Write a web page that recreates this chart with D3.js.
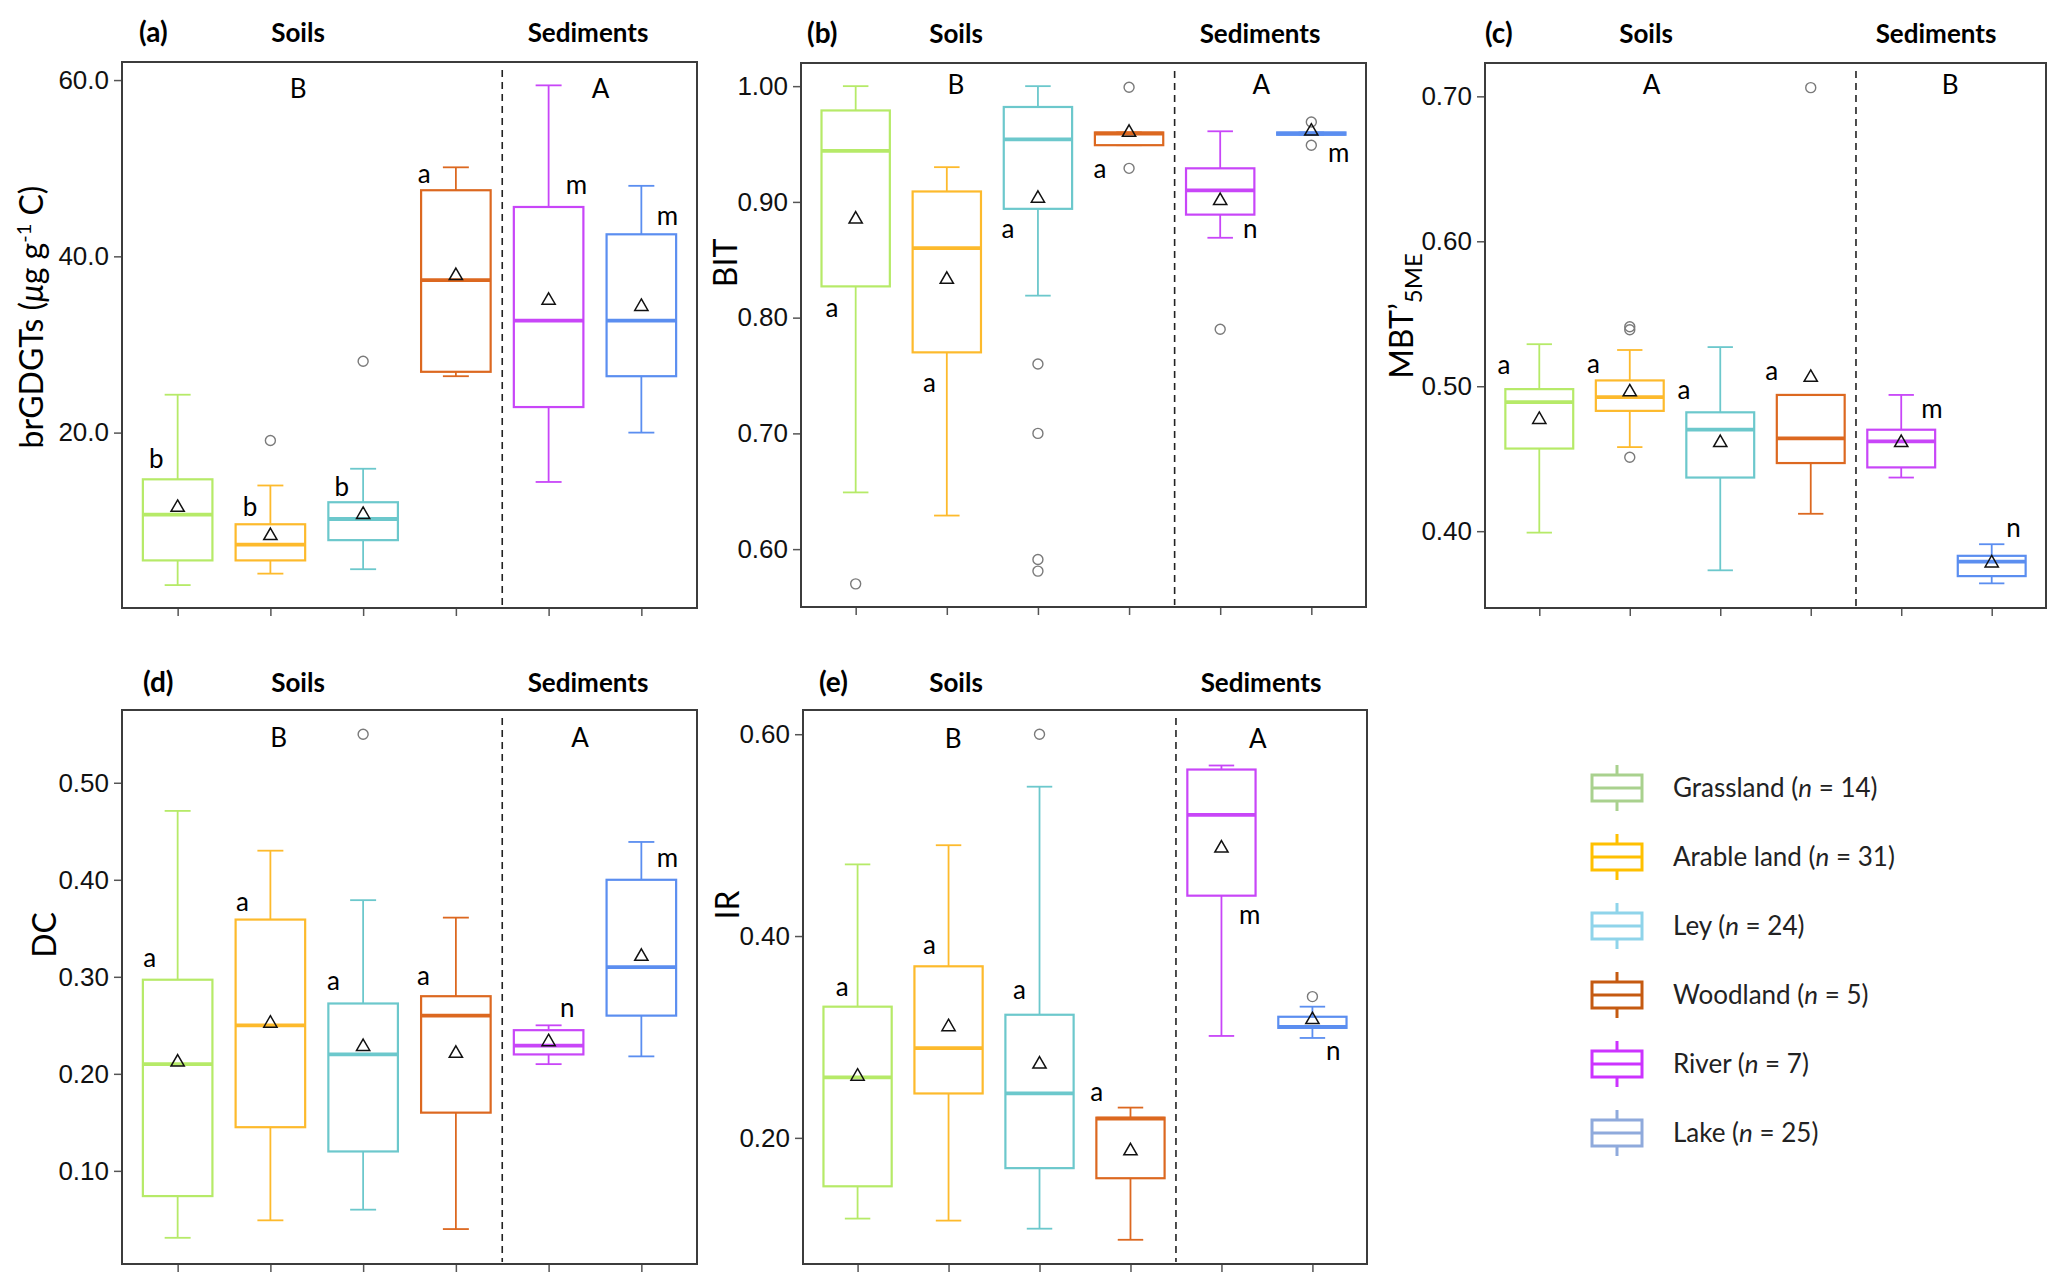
<!DOCTYPE html>
<html>
<head>
<meta charset="utf-8">
<script src="https://cdn.jsdelivr.net/npm/d3@7"></script>
<style>
  body { margin: 0; background: #fff; }
  svg { display: block; font-family: Lato, "Liberation Sans", sans-serif; }
</style>
</head>
<body>
<svg id="chart" width="2067" height="1288"></svg>
<script>
// groups shown in every panel, left to right
const groups = ["Grassland", "Arable land", "Ley", "Woodland", "River", "Lake"];
const groupN = [14, 31, 24, 5, 7, 25];
const boxColors = ["#b6ea68", "#fdba2c", "#6cc8cc", "#dc6820", "#c846f8", "#5b8ef0"];
const legendColors = ["#a9d18e", "#ffc000", "#8fd4ea", "#c55a11", "#cc33ff", "#8faadc"];

// box stats per group: [lower whisker, Q1, median, Q3, upper whisker, mean]
const brgdgtStats = [
  [2.7, 5.5, 10.7, 14.7, 24.3, 11.5],
  [4.0, 5.5, 7.3, 9.6, 14.0, 8.3],
  [4.5, 7.8, 10.2, 12.1, 15.9, 10.7],
  [26.4, 26.9, 37.3, 47.5, 50.1, 37.8],
  [14.4, 22.9, 32.7, 45.6, 59.4, 35.0],
  [20.0, 26.4, 32.7, 42.5, 48.0, 34.3]
];
const brgdgtOutliers = [[], [19.1], [28.1], [], [], []];
const brgdgtLetters = ["b", "b", "b", "a", "m", "m"];
const brgdgtLetterY = [16.9, 11.5, 13.8, 49.3, 48.0, 44.5];
const brgdgtGroupLetters = ["B", "A"];

const bitStats = [
  [0.649, 0.827, 0.944, 0.979, 1.000, 0.885],
  [0.629, 0.770, 0.860, 0.909, 0.930, 0.833],
  [0.819, 0.894, 0.954, 0.982, 1.000, 0.903],
  [0.949, 0.949, 0.959, 0.960, 0.960, 0.960],
  [0.869, 0.889, 0.910, 0.929, 0.961, 0.901],
  [0.958, 0.958, 0.959, 0.960, 0.960, 0.961]
];
const bitOutliers = [[0.570], [], [0.760, 0.700, 0.591, 0.581], [0.999, 0.929], [0.790], [0.969, 0.949]];
const bitLetters = ["a", "a", "a", "a", "n", "m"];
const bitLetterY = [0.808, 0.743, 0.876, 0.928, 0.876, 0.942];
const bitGroupLetters = ["B", "A"];

const mbtStats = [
  [0.399, 0.457, 0.489, 0.498, 0.529, 0.477],
  [0.458, 0.483, 0.4925, 0.504, 0.525, 0.496],
  [0.373, 0.437, 0.470, 0.482, 0.527, 0.461],
  [0.412, 0.447, 0.464, 0.494, 0.494, 0.506],
  [0.437, 0.444, 0.462, 0.470, 0.494, 0.461],
  [0.364, 0.369, 0.379, 0.383, 0.391, 0.378]
];
const mbtOutliers = [[], [0.541, 0.539, 0.451], [], [0.706], [], []];
const mbtLetters = ["a", "a", "a", "a", "m", "n"];
const mbtLetterY = [0.514, 0.515, 0.497, 0.510, 0.484, 0.402];
const mbtGroupLetters = ["A", "B"];

const dcStats = [
  [0.031, 0.074, 0.210, 0.297, 0.471, 0.212],
  [0.049, 0.145, 0.250, 0.359, 0.430, 0.252],
  [0.060, 0.120, 0.220, 0.2725, 0.379, 0.228],
  [0.040, 0.160, 0.260, 0.280, 0.361, 0.221],
  [0.210, 0.220, 0.229, 0.245, 0.250, 0.233],
  [0.218, 0.260, 0.310, 0.400, 0.439, 0.321]
];
const dcOutliers = [[], [], [0.550], [], [], []];
const dcLetters = ["a", "a", "a", "a", "n", "m"];
const dcLetterY = [0.319, 0.376, 0.295, 0.300, 0.267, 0.422];
const dcGroupLetters = ["B", "A"];

const irStats = [
  [0.120, 0.152, 0.260, 0.330, 0.471, 0.261],
  [0.118, 0.244, 0.289, 0.370, 0.490, 0.310],
  [0.110, 0.170, 0.244, 0.322, 0.548, 0.273],
  [0.099, 0.160, 0.219, 0.220, 0.230, 0.187],
  [0.301, 0.440, 0.520, 0.565, 0.569, 0.487],
  [0.299, 0.309, 0.310, 0.320, 0.330, 0.317]
];
const irOutliers = [[], [], [0.600], [], [], [0.340]];
const irLetters = ["a", "a", "a", "a", "m", "n"];
const irLetterY = [0.349, 0.390, 0.346, 0.245, 0.420, 0.285];
const irGroupLetters = ["B", "A"];

const tickA = [20, 40, 60];
const tickB = [0.6, 0.7, 0.8, 0.9, 1.0];
const tickC = [0.4, 0.5, 0.6, 0.7];
const tickD = [0.1, 0.2, 0.3, 0.4, 0.5];
const tickE = [0.2, 0.4, 0.6];

// layout of each panel (pixels)
const panels = [
  { tag: "(a)", stats: brgdgtStats, out: brgdgtOutliers, letters: brgdgtLetters, letterY: brgdgtLetterY,
    groupLetters: brgdgtGroupLetters, ticks: tickA, fmt: ".1f", domain: [0.1, 62.05],
    x0: 122, x1: 697, y0: 62, y1: 608, titleY: 42, tagX: 139, soilsX: 298, sedX: 588,
    letterDx: [-0.23, -0.22, -0.23, -0.34, 0.30, 0.28], groupX: [2.30, 5.56], groupDy: 27,
    yTitle: "br", yTitleX: 43, yTitleY: 317 },
  { tag: "(b)", stats: bitStats, out: bitOutliers, letters: bitLetters, letterY: bitLetterY,
    groupLetters: bitGroupLetters, ticks: tickB, fmt: ".2f", domain: [0.55, 1.02],
    x0: 801, x1: 1366, y0: 63, y1: 607, titleY: 43, tagX: 807, soilsX: 956, sedX: 1260,
    letterDx: [-0.26, -0.19, -0.33, -0.32, 0.33, 0.30], groupX: [2.10, 5.45], groupDy: 22,
    yTitle: "BIT", yTitleX: 737, yTitleY: 263 },
  { tag: "(c)", stats: mbtStats, out: mbtOutliers, letters: mbtLetters, letterY: mbtLetterY,
    groupLetters: mbtGroupLetters, ticks: tickC, fmt: ".2f", domain: [0.347, 0.723],
    x0: 1485, x1: 2046, y0: 63, y1: 608, titleY: 43, tagX: 1485, soilsX: 1646, sedX: 1936,
    letterDx: [-0.39, -0.40, -0.40, -0.43, 0.34, 0.24], groupX: [2.24, 5.54], groupDy: 22,
    yTitle: "MBT", yTitleX: 1413, yTitleY: 316 },
  { tag: "(d)", stats: dcStats, out: dcOutliers, letters: dcLetters, letterY: dcLetterY,
    groupLetters: dcGroupLetters, ticks: tickD, fmt: ".2f", domain: [0.004, 0.575],
    x0: 122, x1: 697, y0: 710, y1: 1264, titleY: 692, tagX: 143, soilsX: 298, sedX: 588,
    letterDx: [-0.30, -0.30, -0.32, -0.35, 0.20, 0.28], groupX: [2.09, 5.34], groupDy: 28,
    yTitle: "DC", yTitleX: 56, yTitleY: 935 },
  { tag: "(e)", stats: irStats, out: irOutliers, letters: irLetters, letterY: irLetterY,
    groupLetters: irGroupLetters, ticks: tickE, fmt: ".2f", domain: [0.075, 0.624],
    x0: 803, x1: 1367, y0: 710, y1: 1264, titleY: 692, tagX: 819, soilsX: 956, sedX: 1261,
    letterDx: [-0.17, -0.21, -0.22, -0.37, 0.31, 0.23], groupX: [2.05, 5.40], groupDy: 29,
    yTitle: "IR", yTitleX: 739, yTitleY: 905 }
];

const svg = d3.select("#chart");
svg.append("rect").attr("width", 2067).attr("height", 1288).attr("fill", "#fff");

const tri = d3.symbol().type(d3.symbolTriangle).size(76);

function drawPanel(p) {
  const g = svg.append("g");
  const x = d3.scaleLinear().domain([0.4, 6.6]).range([p.x0, p.x1]);
  const y = d3.scaleLinear().domain(p.domain).range([p.y1, p.y0]);
  const step = x(2) - x(1);
  const bw = step * 0.75, cw = step * 0.28;

  // titles above the frame
  g.append("text").attr("x", p.tagX).attr("y", p.titleY)
    .attr("font-size", 28).attr("font-weight", "bold").text(p.tag);
  g.append("text").attr("x", p.soilsX).attr("y", p.titleY).attr("text-anchor", "middle")
    .attr("font-size", 26).attr("font-weight", "bold").text("Soils");
  g.append("text").attr("x", p.sedX).attr("y", p.titleY).attr("text-anchor", "middle")
    .attr("font-size", 26).attr("font-weight", "bold").text("Sediments");

  // y axis title
  const yt = g.append("text")
    .attr("transform", `translate(${p.yTitleX},${p.yTitleY}) rotate(-90)`)
    .attr("text-anchor", "middle").attr("font-size", 32);
  if (p.yTitle === "br") {
    yt.append("tspan").text("brGDGTs (");
    yt.append("tspan").attr("font-style", "italic").text("\u03bc");
    yt.append("tspan").text("g g");
    yt.append("tspan").attr("font-size", 20).attr("dy", -12).text("-1");
    yt.append("tspan").attr("dy", 12).text(" C)");
  } else if (p.yTitle === "MBT") {
    yt.append("tspan").text("MBT\u2019");
    yt.append("tspan").attr("font-size", 24).attr("dy", 9).text("5ME");
  } else {
    yt.text(p.yTitle);
  }

  // axes
  const ya = g.append("g").attr("transform", `translate(${p.x0},0)`)
    .call(d3.axisLeft(y).tickValues(p.ticks).tickFormat(d3.format(p.fmt)).tickSize(8).tickPadding(5));
  ya.select(".domain").remove();
  ya.selectAll("text").attr("font-size", 26).attr("font-family", null).attr("fill", "#111");
  ya.selectAll("line").attr("stroke", "#555").attr("stroke-width", 1.5);

  const xa = g.append("g").attr("transform", `translate(0,${p.y1})`)
    .call(d3.axisBottom(x).tickValues([1, 2, 3, 4, 5, 6]).tickFormat("").tickSize(8));
  xa.select(".domain").remove();
  xa.selectAll("line").attr("stroke", "#555").attr("stroke-width", 1.5);

  // frame
  g.append("rect").attr("x", p.x0).attr("y", p.y0)
    .attr("width", p.x1 - p.x0).attr("height", p.y1 - p.y0)
    .attr("fill", "none").attr("stroke", "#3c3c3c").attr("stroke-width", 2);

  // soils / sediments divider
  g.append("line").attr("x1", x(4.5)).attr("x2", x(4.5))
    .attr("y1", p.y0 + 8).attr("y2", p.y1 - 2)
    .attr("stroke", "#222").attr("stroke-width", 1.6).attr("stroke-dasharray", "7,5");

  // boxes
  p.stats.forEach((s, i) => {
    const [lo, q1, med, q3, hi, mean] = s;
    const cx = x(i + 1), col = boxColors[i];
    const b = g.append("g");
    b.append("line").attr("x1", cx).attr("x2", cx).attr("y1", y(hi)).attr("y2", y(q3))
      .attr("stroke", col).attr("stroke-width", 1.8);
    b.append("line").attr("x1", cx).attr("x2", cx).attr("y1", y(q1)).attr("y2", y(lo))
      .attr("stroke", col).attr("stroke-width", 1.8);
    [lo, hi].forEach(v => {
      b.append("line").attr("x1", cx - cw / 2).attr("x2", cx + cw / 2)
        .attr("y1", y(v)).attr("y2", y(v)).attr("stroke", col).attr("stroke-width", 1.8);
    });
    b.append("rect").attr("x", cx - bw / 2).attr("y", y(q3))
      .attr("width", bw).attr("height", Math.max(y(q1) - y(q3), 0.5))
      .attr("fill", "#fff").attr("stroke", col).attr("stroke-width", 2.2);
    b.append("line").attr("x1", cx - bw / 2).attr("x2", cx + bw / 2)
      .attr("y1", y(med)).attr("y2", y(med)).attr("stroke", col).attr("stroke-width", 3.8);
    p.out[i].forEach(v => {
      b.append("circle").attr("cx", cx).attr("cy", y(v)).attr("r", 5)
        .attr("fill", "none").attr("stroke", "#7a7a7a").attr("stroke-width", 1.4);
    });
    b.append("path").attr("d", tri).attr("transform", `translate(${cx},${y(mean)})`)
      .attr("fill", "none").attr("stroke", "#111").attr("stroke-width", 1.5);

    g.append("text").attr("x", x(i + 1 + p.letterDx[i])).attr("y", y(p.letterY[i]))
      .attr("dy", "0.32em").attr("text-anchor", "middle").attr("font-size", 26)
      .text(p.letters[i]);
  });

  p.groupLetters.forEach((l, j) => {
    g.append("text").attr("x", x(p.groupX[j])).attr("y", p.y0 + p.groupDy)
      .attr("dy", "0.36em").attr("text-anchor", "middle").attr("font-size", 26).text(l);
  });
}

panels.forEach(drawPanel);

// legend
const legY = d3.scaleLinear().domain([0, 5]).range([788, 1133]);
const leg = svg.append("g");
groups.forEach((name, i) => {
  const cy = legY(i), cx = 1617, col = legendColors[i];
  const item = leg.append("g");
  item.append("line").attr("x1", cx).attr("x2", cx).attr("y1", cy - 23).attr("y2", cy + 23)
    .attr("stroke", col).attr("stroke-width", 3);
  item.append("rect").attr("x", cx - 25).attr("y", cy - 13).attr("width", 50).attr("height", 26)
    .attr("fill", "#fff").attr("stroke", col).attr("stroke-width", 3);
  item.append("line").attr("x1", cx - 25).attr("x2", cx + 25).attr("y1", cy).attr("y2", cy)
    .attr("stroke", col).attr("stroke-width", 3);
  const t = item.append("text").attr("x", 1673).attr("y", cy).attr("dy", "0.35em")
    .attr("font-size", 26).attr("fill", "#222");
  t.append("tspan").text(name + " (");
  t.append("tspan").attr("font-style", "italic").text("n");
  t.append("tspan").text(" = " + groupN[i] + ")");
});
</script>
</body>
</html>
